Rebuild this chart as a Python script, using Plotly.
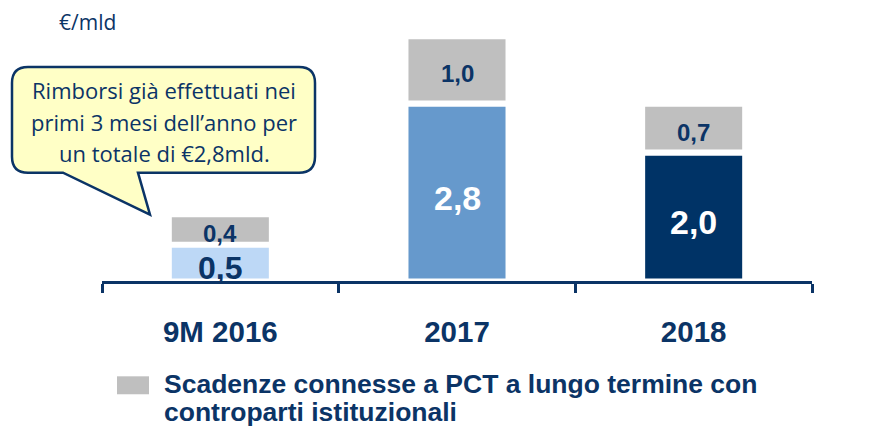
import plotly.graph_objects as go

# ---- data ----
categories = ["9M 2016", "2017", "2018"]
repaid_values = [0.5, 2.8, 2.0]          # coloured bottom segments
pct_values = [0.4, 1.0, 0.7]             # grey segments (PCT scadenze)
legend_label_lines = ["Scadenze connesse a PCT a lungo termine con",
                      "controparti istituzionali"]
unit_label = "€/mld"
callout_lines = ["Rimborsi già effettuati nei",
                 "primi 3 mesi dell’anno per",
                 "un totale di €2,8mld."]

# ---- style ----
NAVY = "#0B3466"
BOTTOM_COLORS = ["#BDD8F6", "#6699CC", "#003366"]
BOTTOM_TEXT_COLORS = [NAVY, "white", "white"]
BOTTOM_TEXT_SIZES = [32, 34, 34]
GREY = "#BFBFBF"
GAP = 0.1
BAR_W = 0.41
OFF = 8                       # page body margin
W, H = 883 - OFF, 429 - OFF   # figure size
# plot area in window pixels
PX0, PX1, PY0, PY1 = 102, 812, 30, 281.5
ML, MR = PX0 - OFF, W - (PX1 - OFF)
MT, MB = PY0 - OFF, H - (PY1 - OFF)
PW, PH = PX1 - PX0, PY1 - PY0
SCALE = 61.5  # px per unit
Y0PX = 279    # window pixel row of value 0

def fmt(v):
    return f"{v:.1f}".replace(".", ",")

def px(x):   # window pixel x -> paper
    return (x - PX0) / PW

def py(y):   # window pixel y -> paper
    return (PY1 - y) / PH

fig = go.Figure()
fig.add_trace(go.Bar(x=categories, y=repaid_values, width=BAR_W,
                     marker=dict(color=BOTTOM_COLORS, line=dict(width=0)),
                     showlegend=False, hoverinfo="skip"))
fig.add_trace(go.Bar(x=categories, y=pct_values,
                     base=[v + GAP for v in repaid_values], width=BAR_W,
                     marker=dict(color=GREY, line=dict(width=0)),
                     name=" ".join(legend_label_lines),
                     showlegend=False, hoverinfo="skip"))

annotations = []
for i, v in enumerate(repaid_values):
    annotations.append(dict(x=i, y=v / 2, xref="x", yref="y", text=fmt(v),
                            showarrow=False, yshift=-5,
                            font=dict(family="Liberation Sans", size=BOTTOM_TEXT_SIZES[i],
                                      color=BOTTOM_TEXT_COLORS[i], weight="bold")))
for i, (b, v) in enumerate(zip(repaid_values, pct_values)):
    annotations.append(dict(x=i, y=b + GAP + v / 2, xref="x", yref="y", text=fmt(v),
                            showarrow=False, yshift=-4,
                            font=dict(family="Liberation Sans", size=24,
                                      color=NAVY, weight="bold")))

# unit label
annotations.append(dict(x=px(57), y=py(22), xref="paper", yref="paper",
                        xanchor="left", yanchor="middle", text=unit_label,
                        showarrow=False,
                        font=dict(family="Open Sans", size=21, color=NAVY)))

# callout text
for line, yc in zip(callout_lines, [90, 122, 153]):
    annotations.append(dict(x=px(164), y=py(yc), xref="paper", yref="paper",
                            xanchor="center", yanchor="middle", text=line,
                            showarrow=False,
                            font=dict(family="Open Sans", size=22, color=NAVY)))

# legend text
for line, yc in zip(legend_label_lines, [385, 413]):
    annotations.append(dict(x=px(162), y=py(yc), xref="paper", yref="paper",
                            xanchor="left", yanchor="middle", text=line,
                            showarrow=False,
                            font=dict(family="Liberation Sans", size=26.5,
                                      color=NAVY, weight="bold")))

# callout shape (rounded box with pointer)
x0, x1, y0, y1, r = 12, 315, 67, 173, 16
def P(x, y):
    return f"{px(x):.5f},{py(y):.5f}"
path = (f"M{P(x0 + r, y0)} L{P(x1 - r, y0)} Q{P(x1, y0)} {P(x1, y0 + r)} "
        f"L{P(x1, y1 - r)} Q{P(x1, y1)} {P(x1 - r, y1)} "
        f"L{P(138, y1)} L{P(150, 215)} L{P(63, y1)} "
        f"L{P(x0 + r, y1)} Q{P(x0, y1)} {P(x0, y1 - r)} "
        f"L{P(x0, y0 + r)} Q{P(x0, y0)} {P(x0 + r, y0)} Z")
shapes = [
    dict(type="path", xref="paper", yref="paper", path=path,
         fillcolor="#FFFFC6", line=dict(color=NAVY, width=2.5), layer="below"),
    dict(type="rect", xref="paper", yref="paper",
         x0=px(117), x1=px(149), y0=py(377), y1=py(395),
         fillcolor=GREY, line=dict(width=0)),
]

fig.update_layout(
    width=W, height=H,
    margin=dict(l=ML, r=MR, t=MT, b=MB, pad=0),
    paper_bgcolor="white", plot_bgcolor="rgba(0,0,0,0)",
    barmode="overlay",
    showlegend=False,
    annotations=annotations,
    shapes=shapes,
    xaxis=dict(type="category", range=[-0.5, 2.5], showgrid=False,
               showline=True, linecolor=NAVY, linewidth=3,
               ticks="outside", ticklen=9, tickwidth=3, tickcolor=NAVY,
               tickson="boundaries", ticklabelstandoff=23,
               tickfont=dict(family="Liberation Sans", size=29.5, color=NAVY,
                             weight="bold"),
               fixedrange=True),
    yaxis=dict(range=[-(PY1 - Y0PX) / SCALE, (Y0PX - PY0) / SCALE],
               visible=False, showgrid=False, zeroline=False, fixedrange=True),
)

fig.write_html("out.html")
